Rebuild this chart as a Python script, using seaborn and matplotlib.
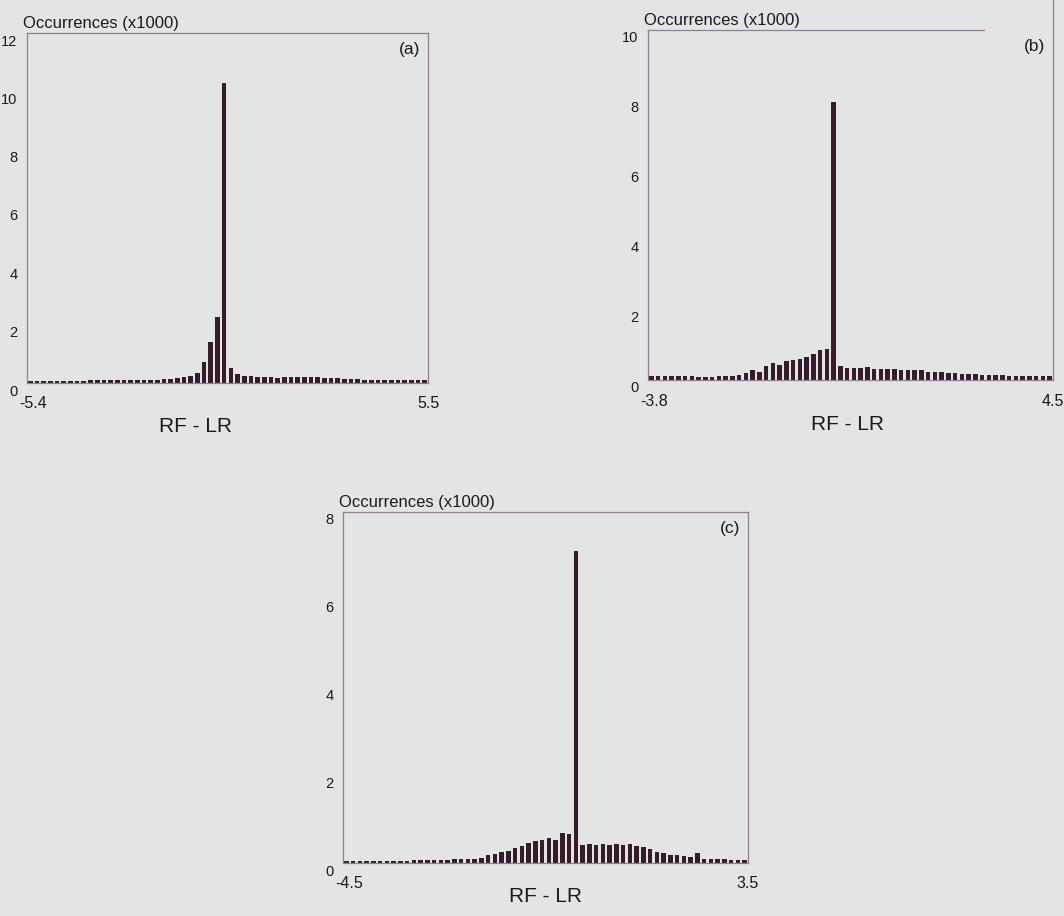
import numpy as np
import pandas as pd
import matplotlib
matplotlib.use("Agg")
import matplotlib.pyplot as plt
from matplotlib.transforms import ScaledTranslation
from matplotlib.lines import Line2D
import seaborn as sns

sns.set_theme(style="white")
plt.rcParams["font.family"] = ["Liberation Sans", "DejaVu Sans"]

# ---------------- data (occurrences x1000 per class) ----------------
a_range = (-5.4, 5.5)
a_counts = [0.07, 0.07, 0.07, 0.07, 0.08, 0.08, 0.08, 0.08, 0.08, 0.09, 0.09, 0.09,
            0.09, 0.10, 0.10, 0.10, 0.11, 0.11,
            0.12, 0.12, 0.13, 0.14, 0.16, 0.19, 0.23, 0.33, 0.72, 1.40, 2.25,
            10.30,
            0.52, 0.30, 0.25, 0.23, 0.22, 0.20, 0.20, 0.18, 0.20, 0.21, 0.20, 0.22,
            0.20, 0.19, 0.18, 0.17, 0.16, 0.15, 0.14, 0.13, 0.12, 0.12, 0.11, 0.11,
            0.10, 0.10, 0.10, 0.10, 0.10, 0.10]
a_yticks = [0, 2, 4, 6, 8, 10, 12]

b_range = (-3.8, 4.5)
b_counts = [0.12, 0.12, 0.12, 0.12, 0.12, 0.12, 0.12, 0.10, 0.10, 0.10, 0.12, 0.12,
            0.12, 0.14, 0.19, 0.28, 0.24, 0.41, 0.48, 0.43, 0.55, 0.57, 0.60, 0.67,
            0.73, 0.85, 0.88,
            7.95,
            0.41, 0.33, 0.33, 0.33, 0.36, 0.32, 0.32, 0.31, 0.32, 0.30, 0.30, 0.29,
            0.28, 0.24, 0.23, 0.22, 0.20, 0.19, 0.18, 0.17, 0.16, 0.15, 0.14, 0.14,
            0.13, 0.12, 0.12, 0.12, 0.12, 0.12, 0.12, 0.12]
b_yticks = [0, 2, 4, 6, 8, 10]

c_range = (-4.5, 3.5)
c_counts = [0.05, 0.05, 0.05, 0.05, 0.05, 0.05, 0.05, 0.05, 0.05, 0.05, 0.06, 0.06,
            0.06, 0.06, 0.07, 0.07, 0.08, 0.08, 0.09, 0.10, 0.12, 0.19, 0.21, 0.26,
            0.28, 0.34, 0.38, 0.45, 0.50, 0.53, 0.57, 0.53, 0.69, 0.65,
            7.10,
            0.42, 0.44, 0.42, 0.44, 0.42, 0.43, 0.42, 0.43, 0.39, 0.36, 0.31, 0.26,
            0.23, 0.18, 0.18, 0.16, 0.14, 0.22, 0.10, 0.09, 0.08, 0.08, 0.07, 0.07,
            0.07]
c_yticks = [0, 2, 4, 6, 8]

x_label = "RF - LR"
y_label = "Occurrences (x1000)"

# ---------------- style ----------------
PAPER = "#e2e5e4"
BAR = "#351b2c"
SPINE = "#8d8090"
TXT = "#1c1820"

W, H = 1064, 916
fig = plt.figure(figsize=(W / 100, H / 100), dpi=100, facecolor=PAPER)
PT = 0.72  # points per pixel at 100 dpi


def px_axes(left, top, right, bottom):
    return fig.add_axes([left / W, 1 - bottom / H, (right - left) / W, (bottom - top) / H])


def panel(ax, rng, counts, yticks, tag, xlab_dx, xlab_dy):
    lo, hi = rng
    n = len(counts)
    edges = np.linspace(lo, hi, n + 1)
    centers = np.round(0.5 * (edges[:-1] + edges[1:]), 6)
    df = pd.DataFrame({"x": centers, "y": counts})
    sns.barplot(data=df, x="x", y="y", native_scale=True, width=0.7,
                color=BAR, saturation=1.0, linewidth=0, ax=ax)
    ax.set_facecolor(PAPER)
    ax.set_xlim(lo, hi)
    ax.set_ylim(0, yticks[-1])
    ax.set_xlabel("")
    ax.set_ylabel("")
    ax.set_xticks([])
    ax.set_yticks(yticks)
    ax.set_yticklabels([str(t) for t in yticks], fontsize=10.5, color=TXT)
    ax.tick_params(axis="y", length=2, width=0.8, color=SPINE, pad=5, direction="out")
    off = ScaledTranslation(0, -0.07, fig.dpi_scale_trans)
    for lab in ax.get_yticklabels():
        lab.set_transform(lab.get_transform() + off)
    for s in ax.spines.values():
        s.set_visible(True)
        s.set_color(SPINE)
        s.set_linewidth(0.9)
    # range labels under the corners
    ax.annotate(f"{lo:g}", xy=(0, 0), xycoords="axes fraction", xytext=(6 * PT, -21 * PT),
                textcoords="offset points", ha="center", va="center",
                fontsize=11.5, color=TXT)
    ax.annotate(f"{hi:g}", xy=(1, 0), xycoords="axes fraction", xytext=(0, -21 * PT),
                textcoords="offset points", ha="center", va="center",
                fontsize=11.5, color=TXT)
    ax.annotate(x_label, xy=(0.5, 0), xycoords="axes fraction",
                xytext=(xlab_dx * PT, -xlab_dy * PT),
                textcoords="offset points", ha="center", va="center",
                fontsize=15, color=TXT)
    ax.annotate(y_label, xy=(0, 1), xycoords="axes fraction", xytext=(-4 * PT, 2 * PT),
                textcoords="offset points", ha="left", va="bottom",
                fontsize=12, color=TXT)
    ax.annotate(tag, xy=(1, 1), xycoords="axes fraction", xytext=(-8 * PT, -9 * PT),
                textcoords="offset points", ha="right", va="top",
                fontsize=12.5, color=TXT)


ax_a = px_axes(27, 33, 428, 383)
panel(ax_a, a_range, a_counts, a_yticks, "(a)", -32, 43)

ax_b = px_axes(648, 30, 1053, 380)
panel(ax_b, b_range, b_counts, b_yticks, "(b)", -3, 45)
# the printed frame of (b): short top rule, right rule running up past it
ax_b.spines["top"].set_bounds(b_range[0], b_range[0] + 0.83 * (b_range[1] - b_range[0]))
ax_b.add_line(Line2D([1, 1], [1, 1 + 30 / 350], transform=ax_b.transAxes,
                     color=SPINE, linewidth=0.9, clip_on=False))

ax_c = px_axes(343, 512, 748, 863)
panel(ax_c, c_range, c_counts, c_yticks, "(c)", 0, 33)

fig.savefig("out.png", dpi=100, facecolor=PAPER)
